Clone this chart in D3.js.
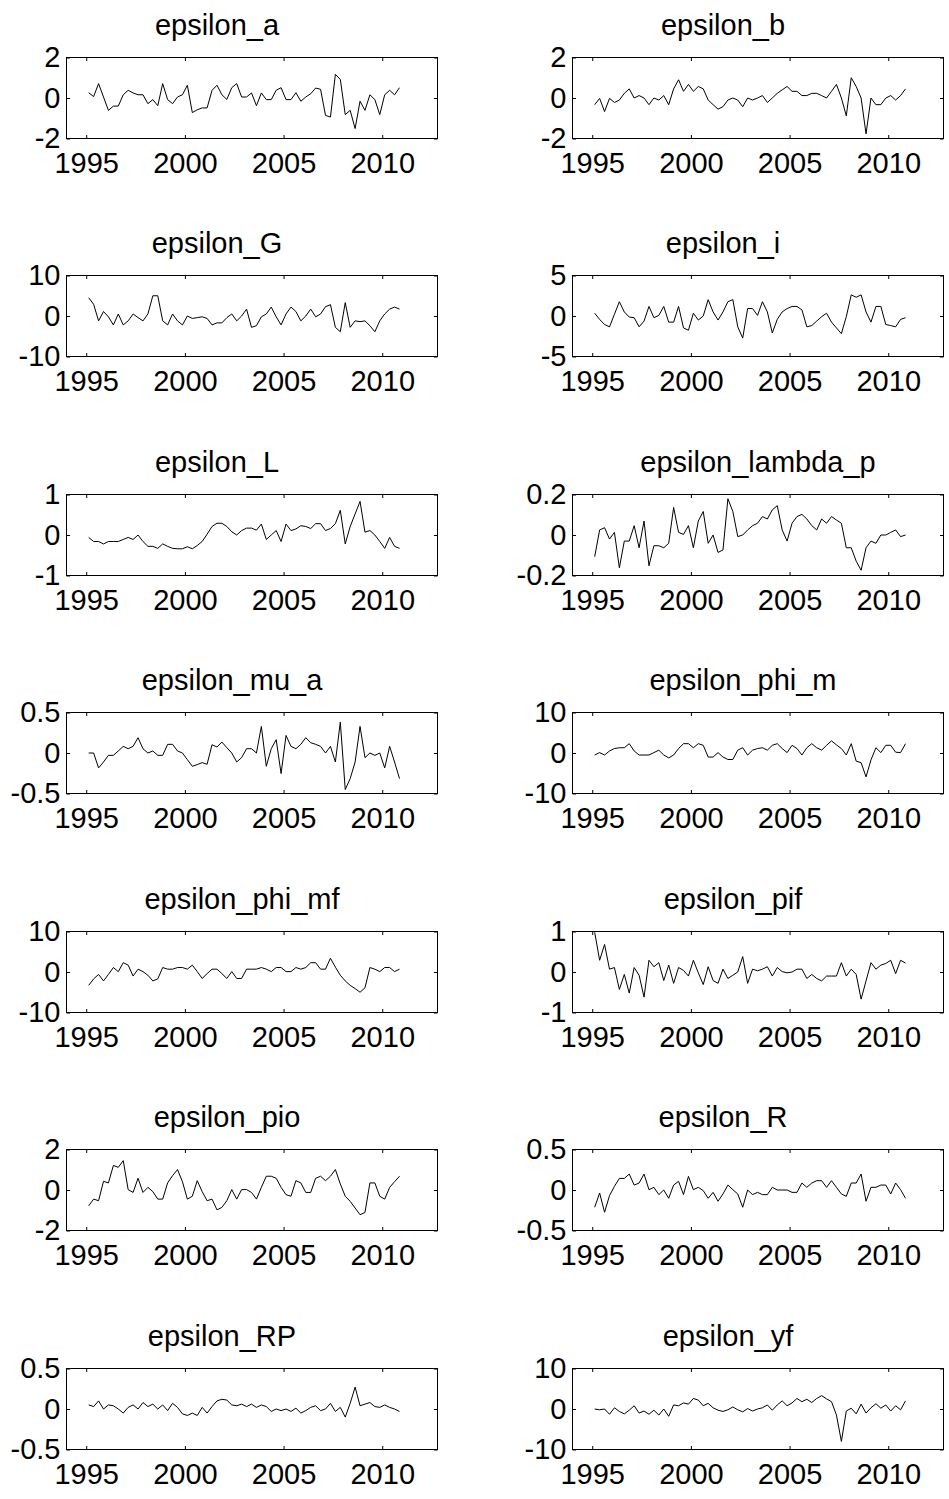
<!DOCTYPE html>
<html>
<head>
<meta charset="utf-8">
<script src="https://cdn.jsdelivr.net/npm/d3@7"></script>
<style>
  html, body { margin: 0; padding: 0; background: #fff; }
  svg text { font-family: "Liberation Sans", Arial, Helvetica, sans-serif; }
</style>
</head>
<body>
<svg id="chart" width="949" height="1499"></svg>
<script>
// Smoothed structural shocks, quarterly, 1995-2010
const shockNames = [
  "epsilon_a", "epsilon_b", "epsilon_G", "epsilon_i", "epsilon_L", "epsilon_lambda_p",
  "epsilon_mu_a", "epsilon_phi_m", "epsilon_phi_mf", "epsilon_pif", "epsilon_pio",
  "epsilon_R", "epsilon_RP", "epsilon_yf"
];
const yLimits = [2, 2, 10, 5, 1, 0.2, 0.5, 10, 10, 1, 2, 0.5, 0.5, 10];
const xTickYears = [1995, 2000, 2005, 2010];
const firstQuarterMid = 1995.125;

const epsilon_a = [0.26, 0.07, 0.71, 0.05, -0.61, -0.40, -0.40, 0.16, 0.38, 0.25,
  0.16, 0.16, -0.28, -0.08, -0.38, 0.71, -0.08, -0.28, 0.05, 0.16,
  0.63, -0.72, -0.58, -0.49, -0.49, 0.38, 0.63, 0.16, -0.07, 0.51,
  0.71, 0.05, 0.05, 0.25, -0.38, 0.25, -0.08, -0.08, 0.38, 0.51,
  -0.08, -0.08, 0.26, -0.16, 0.05, 0.21, 0.49, 0.43, -0.86, -0.94,
  1.17, 0.92, -0.82, -0.61, -1.51, -0.16, -0.61, 0.16, -0.08, -0.82,
  0.16, 0.38, 0.16, 0.51];
const epsilon_b = [-0.33, -0.02, -0.67, -0.02, -0.22, -0.10, 0.23, 0.45, 0.0, 0.12,
  0.0, -0.33, 0.0, -0.10, 0.12, -0.33, 0.45, 0.90, 0.33, 0.67,
  0.33, 0.57, 0.45, -0.10, -0.33, -0.55, -0.43, -0.10, 0.0, -0.10,
  -0.43, 0.0, -0.10, 0.0, 0.12, -0.22, 0.0, 0.23, 0.40, 0.57,
  0.33, 0.33, 0.12, 0.12, 0.23, 0.23, 0.12, 0.0, 0.33, 0.67,
  0.0, -0.88, 1.0, 0.57, 0.0, -1.77, 0.0, -0.33, -0.33, 0.0,
  0.12, -0.10, 0.12, 0.45];
const epsilon_G = [4.5, 2.9, -1.2, 1.1, -0.2, -2.2, 0.5, -2.2, -1.2, 0.5,
  -0.4, -1.2, 0.5, 5.0, 5.0, -1.2, -2.2, 0.5, -1.2, -2.2,
  0.0, -0.6, -0.4, -0.2, -0.6, -2.2, -1.7, -1.7, -0.4, 0.5,
  -1.2, 0.0, 1.7, -2.8, -2.4, -0.2, 0.5, 2.2, -0.2, -2.2,
  0.5, 2.2, 1.1, -1.2, 0.0, 1.7, -0.2, 0.5, 2.3, 2.8,
  -2.8, -3.9, 3.3, -2.8, -1.2, -1.4, -1.2, -2.4, -3.9, -1.2,
  0.5, 1.7, 2.2, 1.7];
const epsilon_i = [0.34, -0.42, -1.05, -1.34, 0.21, 1.76, 0.5, -0.13, -0.21, -1.34,
  -0.63, 1.18, -0.21, 0.08, 1.18, -0.76, -0.76, 1.18, -1.47, -1.76,
  0.34, -0.5, 0.0, 2.02, 0.5, -0.5, 0.5, 1.76, 2.02, -1.34,
  -2.73, 0.92, 0.92, 0.08, 1.76, 0.5, -2.1, -0.42, 0.5, 0.92,
  1.18, 1.18, 0.76, -1.34, -1.18, -0.63, -0.08, 0.34, -0.76, -1.47,
  -2.18, -0.08, 2.61, 2.31, 2.61, 0.5, -0.76, 1.18, 1.18, -1.05,
  -1.18, -1.34, -0.42, -0.21];
const epsilon_L = [-0.06, -0.16, -0.16, -0.22, -0.16, -0.16, -0.16, -0.11, -0.06, -0.11,
  0.0, -0.16, -0.28, -0.28, -0.33, -0.22, -0.28, -0.33, -0.34, -0.34,
  -0.29, -0.34, -0.26, -0.16, 0.02, 0.21, 0.29, 0.29, 0.21, 0.08,
  0.0, 0.11, 0.17, 0.17, 0.12, 0.27, -0.11, 0.0, 0.11, -0.16,
  0.27, 0.11, 0.15, 0.23, 0.21, 0.16, 0.28, 0.28, 0.11, 0.16,
  0.28, 0.61, -0.22, 0.21, 0.52, 0.83, 0.07, 0.11, 0.0, -0.16,
  -0.33, -0.06, -0.28, -0.33];
const epsilon_lambda_p = [-0.107, 0.025, 0.036, -0.020, 0.013, -0.162, -0.030, -0.030, 0.046, -0.063,
  0.069, -0.152, -0.053, -0.053, -0.063, -0.041, 0.136, 0.013, 0.003, 0.046,
  -0.063, 0.069, 0.116, -0.041, 0.0, -0.086, -0.074, 0.179, 0.116, -0.008,
  0.0, 0.025, 0.046, 0.058, 0.091, 0.079, 0.124, 0.145, 0.025, -0.030,
  0.058, 0.091, 0.102, 0.079, 0.046, 0.025, 0.079, 0.058, 0.091, 0.074,
  0.058, -0.063, -0.063, -0.129, -0.174, -0.063, -0.030, -0.041, 0.0, 0.0,
  0.013, 0.025, -0.008, 0.0];
const epsilon_mu_a = [0, 0, -0.184, -0.111, -0.029, -0.029, 0.025, 0.082, 0.053, 0.082,
  0.189, 0.053, 0, 0.025, -0.029, -0.029, 0.107, 0.107, 0.025, 0,
  -0.082, -0.164, -0.143, -0.119, -0.139, 0.102, 0.074, 0.135, 0.066, 0,
  -0.111, -0.057, 0.053, 0.053, 0, 0.328, -0.164, 0.053, 0.164, -0.254,
  0.217, 0.082, 0.053, 0.107, 0.189, 0.127, 0.107, 0.082, 0, 0.082,
  -0.111, 0.381, -0.451, -0.316, -0.111, 0.328, -0.057, 0, -0.029, 0,
  -0.184, 0.082, -0.111, -0.316];
const epsilon_phi_m = [-0.5, 0.1, -0.5, 0.5, 1.1, 1.3, 1.3, 2.3, 0.5, -0.5,
  -0.5, -0.5, 0.1, 0.7, -0.5, -1.2, -0.5, 1.1, 2.3, 2.3,
  1.3, 2.3, 1.9, -1.0, -1.0, 0.1, -1.0, -1.6, -1.6, 0.7,
  1.3, -0.5, 0.7, 1.1, 1.3, 0.7, 1.9, 2.3, 1.1, 0.1,
  1.9, 1.1, -0.5, 1.3, 2.3, 1.3, 0.7, 1.9, 3.0, 2.0,
  1.1, -0.5, 2.3, -2.0, -2.4, -5.9, -1.7, 1.3, 0.1, 1.9,
  1.9, 0.2, 0.1, 2.3];
const epsilon_phi_mf = [-3.3, -1.7, -0.6, -2.2, -0.6, 1.1, 0.1, 2.3, 1.7, -1.0,
  0.7, 0.1, -0.8, -2.2, -1.7, 1.1, 0.7, 0.7, 1.1, 1.1,
  0.7, 1.7, 0.1, -1.6, -0.4, 0.7, 0.7, -0.4, -1.6, 0.1,
  -1.6, -1.6, 0.7, 0.7, 0.7, 1.1, 0.7, 0.1, 1.1, 1.1,
  0.1, 0.1, 1.1, 0.7, 1.1, 2.3, 2.3, 0.7, 0.7, 3.4,
  1.2, -0.8, -2.2, -3.3, -4.1, -5.0, -3.9, 1.1, 0.7, 0.1,
  1.1, 1.1, 0.1, 0.7];
const epsilon_pif = [0.98, 0.29, 0.68, 0.07, 0.11, -0.43, -0.06, -0.52, 0.11, -0.08,
  -0.62, 0.29, 0.13, 0.23, -0.21, 0.17, -0.28, 0.11, 0.04, -0.10,
  0.29, -0.02, -0.31, 0.13, -0.21, -0.28, 0.07, -0.16, -0.08, 0.0,
  0.38, -0.28, 0.07, 0.03, 0.07, 0.13, -0.10, 0.11, 0.01, -0.02,
  0.0, 0.07, 0.07, -0.16, -0.06, -0.16, -0.22, -0.10, -0.10, -0.10,
  0.23, -0.10, 0.07, -0.06, -0.67, -0.22, 0.23, 0.07, 0.17, 0.21,
  0.29, -0.04, 0.29, 0.22];
const epsilon_pio = [-0.78, -0.45, -0.53, 0.43, 0.35, 1.21, 1.12, 1.45, 0.02, -0.12,
  0.58, -0.12, 0.13, -0.08, -0.45, -0.45, 0.35, 0.71, 1.01, 0.41,
  -0.45, -0.31, 0.46, -0.08, -0.53, -0.45, -0.98, -0.86, -0.53, 0.02,
  -0.45, 0.02, 0.02, -0.12, -0.45, 0.13, 0.68, 0.68, 0.58, 0.13,
  -0.23, -0.31, 0.46, 0.35, -0.12, -0.12, 0.58, 0.68, 0.46, 0.68,
  1.01, 0.30, -0.31, -0.56, -0.89, -1.22, -1.11, 0.35, 0.35, -0.31,
  -0.45, 0.13, 0.41, 0.68];
const epsilon_R = [-0.213, -0.037, -0.275, -0.070, 0.045, 0.143, 0.143, 0.197, 0.061, 0.086,
  0.197, 0.004, 0.033, -0.057, 0.0, -0.102, 0.061, 0.107, -0.057, 0.168,
  0.004, 0.033, -0.008, -0.102, -0.029, -0.139, -0.049, 0.061, 0.004, -0.049,
  -0.213, 0.0, -0.057, -0.029, -0.057, -0.057, 0.033, 0.0, 0.0, 0.0,
  -0.029, -0.029, 0.086, 0.033, 0.086, 0.115, 0.115, 0.033, 0.115, 0.033,
  -0.049, -0.078, 0.086, 0.086, 0.197, -0.139, 0.033, 0.033, 0.061, 0.061,
  -0.049, 0.086, 0.004, -0.102];
const epsilon_RP = [0.05, 0.03, 0.10, 0.0, 0.05, 0.04, 0.0, -0.05, 0.02, 0.05,
  0.0, 0.08, 0.03, 0.06, 0.0, 0.05, -0.02, 0.07, 0.02, -0.06,
  -0.08, -0.05, -0.08, 0.02, -0.05, 0.03, 0.10, 0.12, 0.11, 0.05,
  0.04, 0.06, 0.03, 0.06, 0.02, 0.05, 0.03, -0.03, 0.0, -0.02,
  0.0, -0.03, 0.01, -0.05, -0.02, 0.02, 0.04, -0.02, 0.0, 0.07,
  -0.03, 0.02, -0.10, 0.07, 0.27, 0.04, 0.06, 0.08, 0.03, 0.02,
  0.05, 0.02, 0.0, -0.03];
const epsilon_yf = [0.0, -0.2, 0.0, -1.3, 0.3, -0.6, -1.2, -0.3, 0.8, -1.0,
  -0.5, -1.3, -0.3, -1.5, 0.0, -1.8, 1.0, 0.8, 1.5, 1.2,
  2.6, 2.2, 0.8, 1.4, 0.3, -0.3, -0.6, -0.2, 0.5, -0.2,
  -0.7, 0.1, -0.5, 0.0, 0.3, 1.0, -0.3, 1.0, 2.0, 0.8,
  1.5, 2.6, 1.8, 2.4, 1.6, 2.6, 3.3, 2.5, 1.8, -1.5,
  -8.0, -0.5, 0.2, -1.2, 1.2, -1.0, 0.3, 1.3, 0.2, 1.0,
  -0.5, 0.8, -0.2, 2.0];

const shockSeries = [epsilon_a, epsilon_b, epsilon_G, epsilon_i, epsilon_L, epsilon_lambda_p,
  epsilon_mu_a, epsilon_phi_m, epsilon_phi_mf, epsilon_pif, epsilon_pio,
  epsilon_R, epsilon_RP, epsilon_yf];

// quarter mid-points for the 64 observations
const quarterDates = d3.range(epsilon_a.length).map(i => firstQuarterMid + i * 0.25);

// ---- layout ----
const svg = d3.select("#chart");
const boxW = 371, boxH = 81;
const colLeft = [66.5, 572.5];
const rowTop0 = 57.3, rowStep = 218.5;
const fontSize = 29;
const tickLen = 3.5;
const fontFamily = '"Liberation Sans", Arial, Helvetica, sans-serif';
// titles are blank-padded to the longest name, so shorter ones sit left of centre
const titleWidthChars = d3.max(shockNames, n => n.length);
const blankWidth = 10;

const x = d3.scaleLinear().domain([1994, 2012.8]).range([0, boxW]);

shockNames.forEach((name, k) => {
  const col = k % 2, row = Math.floor(k / 2);
  const top = Math.floor(rowTop0 + row * rowStep) + 0.5;
  const g = svg.append("g").attr("transform", `translate(${colLeft[col]},${top})`);
  const lim = yLimits[k];
  const y = d3.scaleLinear().domain([-lim, lim]).range([boxH, 0]);

  const clipId = "plotclip" + k;
  g.append("clipPath").attr("id", clipId)
    .append("rect").attr("x", 0).attr("y", 0).attr("width", boxW).attr("height", boxH);

  g.append("path")
    .datum(shockSeries[k])
    .attr("clip-path", `url(#${clipId})`)
    .attr("fill", "none")
    .attr("stroke", "#000")
    .attr("stroke-width", 1)
    .attr("stroke-linejoin", "miter")
    .attr("d", d3.line().x((d, i) => x(quarterDates[i])).y(d => y(d)));

  const yTicks = [-lim, 0, lim];
  const styleAxis = sel => {
    sel.attr("font-size", fontSize).attr("font-family", fontFamily);
    sel.select(".domain").remove();
    sel.selectAll(".tick line").attr("stroke", "#000");
    sel.selectAll(".tick text").attr("fill", "#000");
  };

  g.append("g").attr("transform", `translate(0,${boxH})`)
    .call(d3.axisBottom(x).tickValues(xTickYears).tickFormat(d3.format("d"))
      .tickSize(-tickLen).tickPadding(14))
    .call(styleAxis);
  g.append("g")
    .call(d3.axisTop(x).tickValues(xTickYears).tickFormat("").tickSize(-tickLen))
    .call(styleAxis);
  g.append("g")
    .call(d3.axisLeft(y).tickValues(yTicks).tickFormat(d => String(d))
      .tickSize(-tickLen).tickPadding(6))
    .call(styleAxis);
  g.append("g").attr("transform", `translate(${boxW},0)`)
    .call(d3.axisRight(y).tickValues(yTicks).tickFormat("").tickSize(-tickLen))
    .call(styleAxis);

  g.append("rect")
    .attr("width", boxW).attr("height", boxH)
    .attr("fill", "none").attr("stroke", "#000").attr("stroke-width", 1);

  const padBlanks = titleWidthChars - name.length;
  g.append("text")
    .attr("x", boxW / 2 - padBlanks * blankWidth / 2)
    .attr("y", -23)
    .attr("text-anchor", "middle")
    .attr("font-size", fontSize)
    .attr("font-family", fontFamily)
    .attr("fill", "#000")
    .text(name);
});
</script>
</body>
</html>
